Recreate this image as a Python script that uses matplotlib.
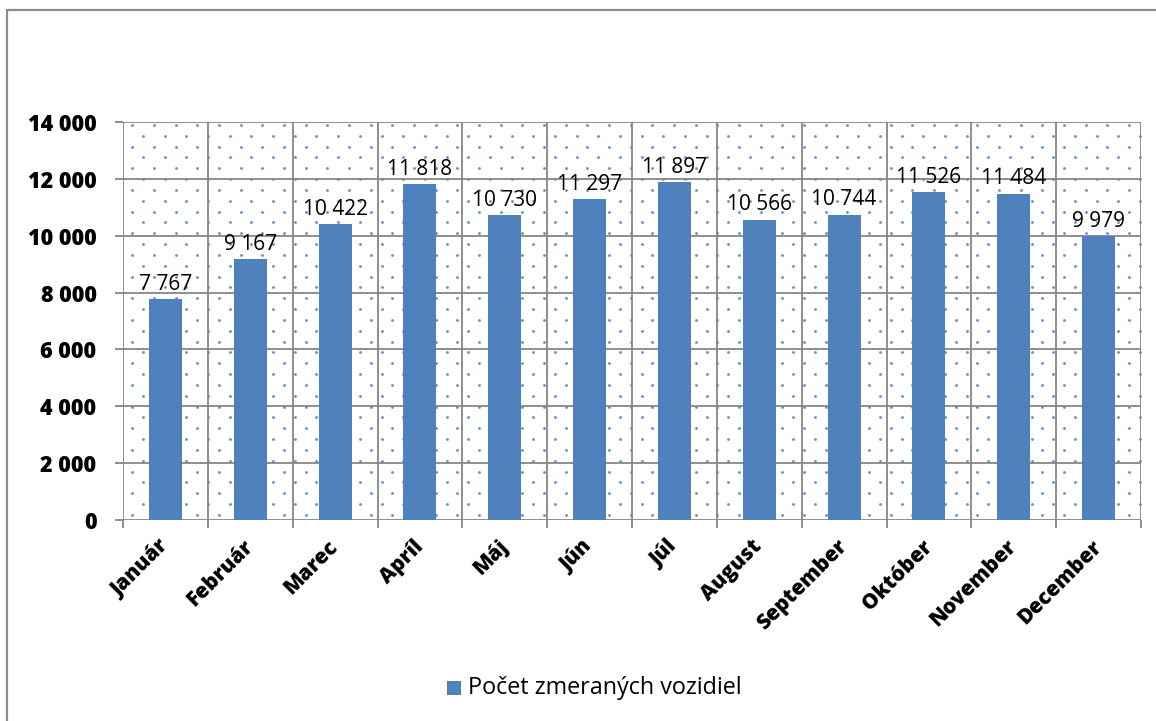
import matplotlib
matplotlib.use("Agg")
import matplotlib.pyplot as plt
from matplotlib.patches import Rectangle
import numpy as np

months = ["Január", "Február", "Marec", "Apríl", "Máj", "Jún", "Júl",
          "August", "September", "Október", "November", "December"]
values = [7767, 9167, 10422, 11818, 10730, 11297, 11897, 10566, 10744, 11526, 11484, 9979]
yticks = [0, 2000, 4000, 6000, 8000, 10000, 12000, 14000]
series_name = "Počet zmeraných vozidiel"

W, H = 1156, 721
fig = plt.figure(figsize=(W / 100, H / 100), dpi=100)
FONT = "Open Sans"
BAR = "#4F81BD"
GRID = "#868686"

L, R, T, B = 123, 1141, 122, 520
ax = fig.add_axes([L / W, 1 - B / H, (R - L) / W, (B - T) / H])

# figure frame
fig.patches.append(Rectangle((7 / W, -0.1), 1.2, 1 - 10 / H + 0.1, transform=fig.transFigure,
                             fill=False, edgecolor="#8C8C8C", lw=1.6, zorder=0))

n = len(months)
x = np.arange(n)
ax.set_xlim(-0.5, n - 0.5)
ax.set_ylim(0, 14000)

# dotted pattern background
pw, ph = R - L, B - T
dx, dy = 21.67, 10.83
pts = []
j = 0
yy = 3.0
while yy < ph:
    xx = 9.3 + (dx / 2 if j % 2 else 0)
    while xx < pw:
        pts.append((xx / pw, 1 - yy / ph))
        xx += dx
    yy += dy
    j += 1
pts = np.array(pts)
ax.scatter(pts[:, 0], pts[:, 1], s=4.0, color="#5B8CCB", marker="o", linewidths=0,
           transform=ax.transAxes, zorder=0.5)

# grid
for yv in yticks:
    ax.axhline(yv, color=GRID, lw=1.3, zorder=1)
for b in np.arange(-0.5, n, 1.0):
    ax.axvline(b, color=GRID, lw=1.3, zorder=1)

bars = ax.bar(x, values, width=0.39, color=BAR, zorder=2)

for xi, v in zip(x, values):
    ax.annotate(f"{v:,}".replace(",", " "), (xi, v), xytext=(0, 3), textcoords="offset points",
                ha="center", va="bottom", fontsize=15, family=FONT, color="black", zorder=3)

for s in ax.spines.values():
    s.set_visible(False)

ax.set_yticks(yticks)
ax.set_yticklabels([f"{t:,}".replace(",", " ") for t in yticks], fontsize=15.5,
                   fontweight=800, family=FONT)
ax.tick_params(axis="y", length=6, width=1.3, color=GRID, pad=13)

ax.set_xticks(np.arange(-0.5, n, 1.0), minor=False)
ax.set_xticklabels([])
ax.tick_params(axis="x", which="major", length=6, width=1.3, color=GRID)
ax.set_xticks(x, minor=True)
ax.set_xticklabels(months, minor=True, rotation=45, ha="right", va="center",
                   rotation_mode="anchor", fontsize=15, fontweight=800, family=FONT)
ax.tick_params(axis="x", which="minor", length=0, pad=17)

# legend
lx, ly = 447 / W, 1 - 688 / H
fig.patches.append(Rectangle((lx, ly - 7 / H), 14 / W, 14 / H, transform=fig.transFigure,
                             facecolor=BAR, edgecolor="none"))
fig.text(468 / W, ly, series_name, ha="left", va="center", fontsize=16.8, family=FONT)

fig.savefig("out.png", dpi=100)
